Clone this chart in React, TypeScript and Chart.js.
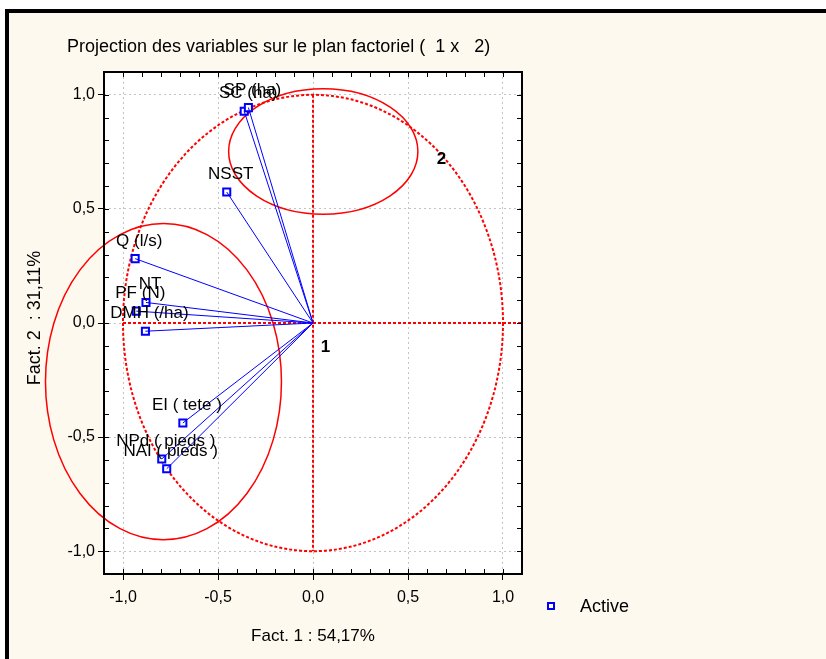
import React, { useEffect, useRef } from "react";
import { Chart, registerables } from "chart.js";

Chart.register(...registerables);

// Variables projected on the factorial plane (Fact. 1 x Fact. 2)
const variableNames = [
  "SC (ha)",
  "SP (ha)",
  "NSST",
  "Q (l/s)",
  "PF (N)",
  "NT",
  "DMH (/ha)",
  "EI ( tete )",
  "NPd ( pieds )",
  "NAI ( pieds )",
];
const fact1 = [-0.362, -0.34, -0.454, -0.936, -0.93, -0.879, -0.882, -0.685, -0.796, -0.77];
const fact2 = [0.928, 0.944, 0.574, 0.282, 0.052, 0.09, -0.036, -0.438, -0.596, -0.639];

const tickValues = [-1, -0.5, 0, 0.5, 1];
const axisMin = -1.1;
const axisMax = 1.1;

// Group ellipses (center x, center y, radius x, radius y) in factor units
const groupCenterX = [0.054, -0.787];
const groupCenterY = [0.752, -0.257];
const groupRadiusX = [0.498, 0.621];
const groupRadiusY = [0.275, 0.693];

// Group numbers
const groupLabels = ["1", "2"];
const groupLabelX = [0.066, 0.676];
const groupLabelY = [-0.099, 0.721];

const titleText = "Projection des variables sur le plan factoriel (  1 x   2)";
const xTitle = "Fact. 1 : 54,17%";
const yTitle = "Fact. 2  : 31,11%";
const legendText = "Active";

const FONT = "'Liberation Sans', Arial, sans-serif";
const BLUE = "#0000FF";
const RED = "#FF0000";

const fmt = (v: number) => (Math.abs(v) < 1e-9 ? 0 : v).toFixed(1).replace(".", ",");

const decorPlugin = {
  id: "decor",
  beforeDraw(chart: any) {
    const { ctx, width, height, chartArea: a } = chart;
    ctx.save();
    ctx.fillStyle = "#FFFFFF";
    ctx.fillRect(0, 0, width, height);
    ctx.fillStyle = "#000000";
    ctx.fillRect(5, 9, width - 5, height - 9);
    ctx.fillStyle = "#FDF9EE";
    ctx.fillRect(9, 13, width - 9, height - 13);
    ctx.fillStyle = "#FFFFFF";
    ctx.fillRect(a.left, a.top, a.right - a.left, a.bottom - a.top);
    ctx.restore();
  },
  beforeDatasetsDraw(chart: any) {
    const { ctx, scales } = chart;
    const xs = scales.x;
    const ys = scales.y;
    const px = (v: number) => xs.getPixelForValue(v);
    const py = (v: number) => ys.getPixelForValue(v);
    ctx.save();
    // unit circle (dotted)
    ctx.strokeStyle = RED;
    ctx.lineWidth = 2;
    ctx.setLineDash([3, 2]);
    ctx.beginPath();
    ctx.ellipse(px(0), py(0), px(1) - px(0), py(0) - py(1), 0, 0, Math.PI * 2);
    ctx.stroke();
    // axes through origin
    ctx.beginPath();
    ctx.moveTo(px(0), py(1));
    ctx.lineTo(px(0), py(-1));
    ctx.moveTo(px(-1), py(0));
    ctx.lineTo(px(axisMax), py(0));
    ctx.stroke();
    ctx.setLineDash([]);
    // group ellipses
    ctx.lineWidth = 1.5;
    for (let i = 0; i < groupCenterX.length; i++) {
      const cx = px(groupCenterX[i]);
      const cy = py(groupCenterY[i]);
      const rx = px(groupCenterX[i] + groupRadiusX[i]) - cx;
      const ry = cy - py(groupCenterY[i] + groupRadiusY[i]);
      ctx.beginPath();
      ctx.ellipse(cx, cy, rx, ry, 0, 0, Math.PI * 2);
      ctx.stroke();
    }
    ctx.restore();
  },
  afterDatasetsDraw(chart: any) {
    const { ctx, scales } = chart;
    const xs = scales.x;
    const ys = scales.y;
    ctx.save();
    ctx.fillStyle = "#000000";
    ctx.font = `17px ${FONT}`;
    ctx.textAlign = "center";
    ctx.textBaseline = "alphabetic";
    for (let i = 0; i < variableNames.length; i++) {
      const x = xs.getPixelForValue(fact1[i]);
      const y = ys.getPixelForValue(fact2[i]);
      ctx.fillText(variableNames[i], x + 4, y - 13);
    }
    ctx.font = `bold 17px ${FONT}`;
    for (let i = 0; i < groupLabels.length; i++) {
      ctx.fillText(
        groupLabels[i],
        xs.getPixelForValue(groupLabelX[i]),
        ys.getPixelForValue(groupLabelY[i]) + 6
      );
    }
    ctx.restore();
  },
  afterDraw(chart: any) {
    const { ctx, chartArea: a, scales } = chart;
    const xs = scales.x;
    const ys = scales.y;
    ctx.save();
    // frame
    ctx.strokeStyle = "#000000";
    ctx.lineWidth = 2;
    ctx.strokeRect(a.left, a.top, a.right - a.left, a.bottom - a.top);
    // minor ticks inward every 0.1
    ctx.lineWidth = 1;
    ctx.beginPath();
    for (let k = -11; k <= 11; k++) {
      const v = k / 10;
      const x = Math.round(xs.getPixelForValue(v)) + 0.5;
      const y = Math.round(ys.getPixelForValue(v)) + 0.5;
      ctx.moveTo(x, a.bottom);
      ctx.lineTo(x, a.bottom - 5);
      ctx.moveTo(x, a.top);
      ctx.lineTo(x, a.top + 5);
      ctx.moveTo(a.left, y);
      ctx.lineTo(a.left + 5, y);
      ctx.moveTo(a.right, y);
      ctx.lineTo(a.right - 5, y);
    }
    ctx.stroke();
    // title
    ctx.fillStyle = "#000000";
    ctx.font = `18px ${FONT}`;
    ctx.textAlign = "left";
    ctx.textBaseline = "alphabetic";
    ctx.fillText(titleText, 67, 52);
    // axis titles
    ctx.font = `17px ${FONT}`;
    ctx.textAlign = "center";
    ctx.textBaseline = "middle";
    ctx.fillText(xTitle, (a.left + a.right) / 2, 636);
    ctx.save();
    ctx.font = `18px ${FONT}`;
    ctx.translate(35, 318);
    ctx.rotate(-Math.PI / 2);
    ctx.fillText(yTitle, 0, 0);
    ctx.restore();
    // legend
    ctx.strokeStyle = BLUE;
    ctx.lineWidth = 2;
    ctx.fillStyle = "#FFFFFF";
    ctx.fillRect(548, 603, 6, 6);
    ctx.strokeRect(548, 603, 6, 6);
    ctx.fillStyle = "#000000";
    ctx.font = `18px ${FONT}`;
    ctx.textAlign = "left";
    ctx.fillText(legendText, 580, 607);
    ctx.restore();
  },
};

export default function App() {
  const canvasRef = useRef<HTMLCanvasElement | null>(null);

  useEffect(() => {
    document.body.style.margin = "0";
    const canvas = canvasRef.current;
    if (!canvas) return;

    const points = variableNames.map((_, i) => ({ x: fact1[i], y: fact2[i] }));
    const vectorSets = points.map((p, i) => ({
      label: "vec-" + variableNames[i],
      data: [{ x: 0, y: 0 }, p],
      showLine: true,
      borderColor: BLUE,
      borderWidth: 1,
      pointRadius: 0,
      fill: false,
    }));

    const axisCommon = (isX: boolean) => ({
      type: "linear" as const,
      min: axisMin,
      max: axisMax,
      afterBuildTicks: (scale: any) => {
        scale.ticks = tickValues.map((v) => ({ value: v }));
      },
      afterFit: (scale: any) => {
        if (isX) scale.height = 85;
        else scale.width = 104;
      },
      ticks: {
        color: "#000000",
        font: { family: FONT, size: 16 },
        padding: isX ? 8 : 3,
        callback: (v: any) => fmt(Number(v)),
      },
      grid: {
        color: "#C4C4C4",
        lineWidth: 1,
        drawTicks: true,
        tickLength: 6,
        tickColor: "#000000",
        tickWidth: 1,
      },
      border: { display: false, dash: [2, 3] },
    });

    const chart = new Chart(canvas, {
      type: "scatter",
      data: {
        datasets: [
          ...vectorSets,
          {
            label: legendText,
            data: points,
            pointStyle: "rect",
            pointRadius: 5,
            borderColor: BLUE,
            borderWidth: 2,
            backgroundColor: "#FFFFFF",
            showLine: false,
          },
        ] as any,
      },
      options: {
        responsive: false,
        animation: false,
        layout: { padding: { left: 0, top: 72, right: 304, bottom: 0 } },
        plugins: {
          legend: { display: false },
          tooltip: { enabled: false },
          title: { display: false },
        },
        scales: {
          x: axisCommon(true),
          y: axisCommon(false),
        },
      } as any,
      plugins: [decorPlugin],
    });

    return () => {
      chart.destroy();
    };
  }, []);

  return <canvas ref={canvasRef} width={826} height={659} style={{ display: "block" }} />;
}
